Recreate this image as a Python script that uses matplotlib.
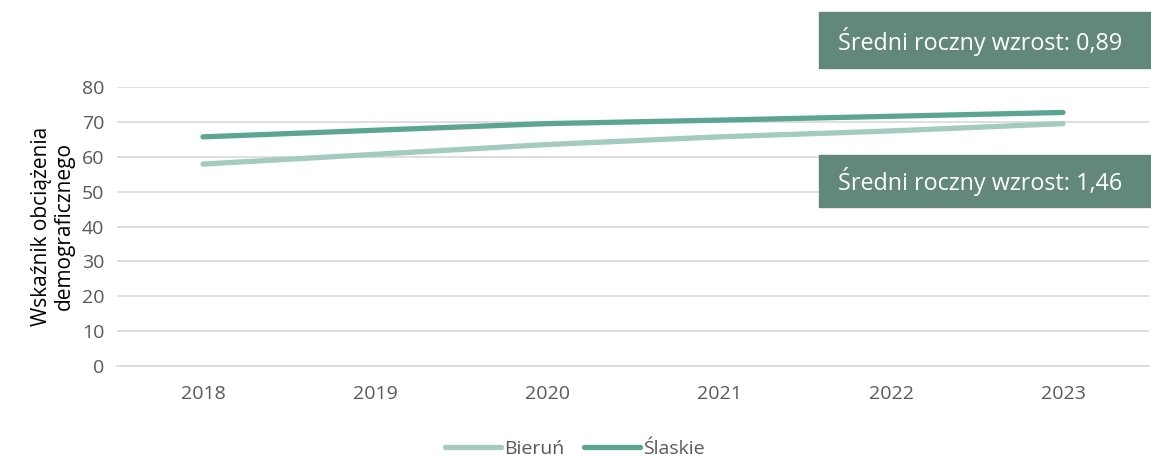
import matplotlib
matplotlib.use("Agg")
import matplotlib.pyplot as plt
from matplotlib.patches import Rectangle

plt.rcParams['font.family'] = ['Open Sans', 'DejaVu Sans']

years = ["2018", "2019", "2020", "2021", "2022", "2023"]
bierun = [57.9, 60.7, 63.5, 65.7, 67.4, 69.5]
slaskie = [65.7, 67.6, 69.5, 70.5, 71.6, 72.7]
series_names = ["Bieruń", "Ślaskie"]
notes = ["Średni roczny wzrost: 0,89", "Średni roczny wzrost: 1,46"]

W, H = 1151, 459
fig = plt.figure(figsize=(W / 100, H / 100), dpi=100)
ax = fig.add_axes([117 / W, (H - 366) / H, 1032 / W, 279 / H])

x = range(len(years))
ax.plot(x, bierun, color="#A3CBBF", lw=3.8, solid_capstyle="round", label=series_names[0])
ax.plot(x, slaskie, color="#5BA592", lw=3.8, solid_capstyle="round", label=series_names[1])

ax.set_xlim(-0.5, len(years) - 0.5)
ax.set_ylim(0, 80)
ax.set_yticks(range(0, 81, 10))
ax.set_xticks(list(x))
ax.set_xticklabels(years)
ax.yaxis.grid(True, color="#D9D9D9", lw=1.2)
ax.set_axisbelow(True)
for s in ["top", "right", "left"]:
    ax.spines[s].set_visible(False)
ax.spines["bottom"].set_color("#D9D9D9")
ax.spines["bottom"].set_linewidth(1.2)
ax.tick_params(axis="both", length=0, labelsize=14, colors="#595959")
ax.tick_params(axis="x", pad=14)
ax.tick_params(axis="y", pad=9)
ax.set_ylabel("Wskaźnik obciążenia\ndemograficznego", fontsize=15, color="black",
              labelpad=5, linespacing=1.15)

# annotation boxes
box_color = "#62887C"
for (top, bot), txt in zip([(12, 68), (155, 207)], notes):
    fig.patches.append(Rectangle((819 / W, (H - bot) / H), (W - 819) / W, (bot - top) / H,
                                 transform=fig.transFigure, color=box_color, zorder=5))
    fig.text(838 / W, (H - (top + bot) / 2 - 1) / H, txt, color="white", fontsize=16.8,
             va="center", ha="left", zorder=6)

fig.legend(loc="center", bbox_to_anchor=(575 / W, (H - 449) / H), ncol=2, frameon=False,
           fontsize=14, handlelength=2.9, columnspacing=1.0, handletextpad=0.15,
           labelcolor="#595959")

fig.savefig("out.png", dpi=100)
